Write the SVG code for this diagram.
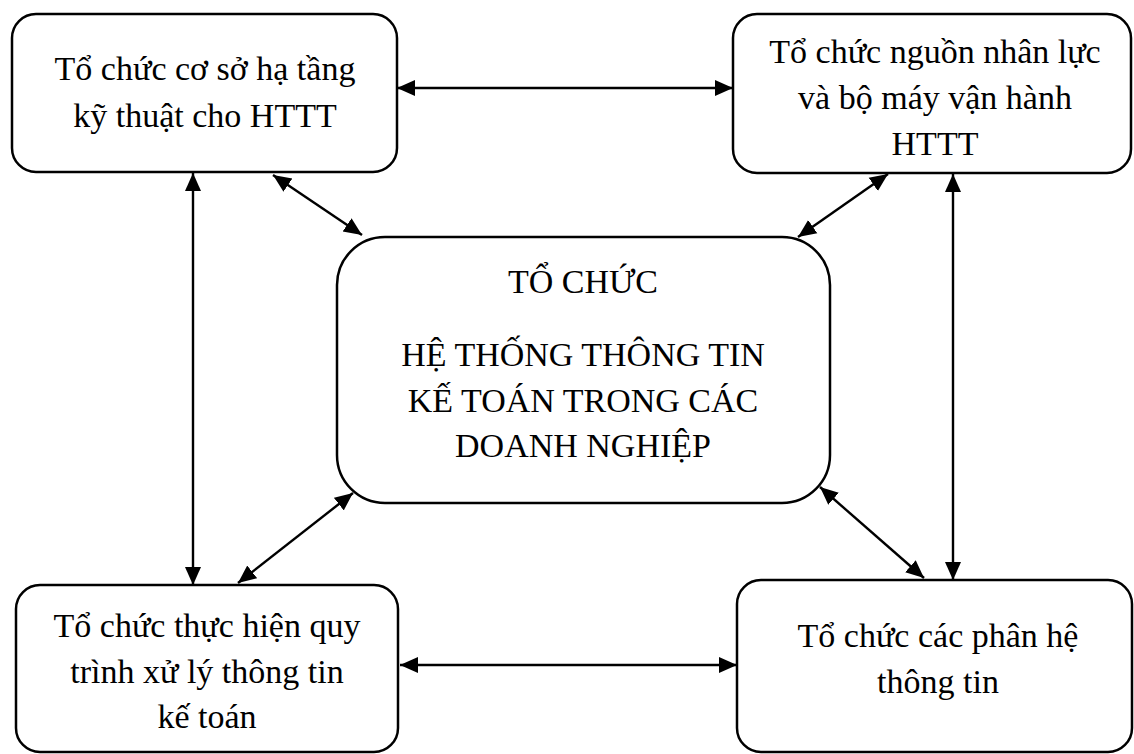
<svg xmlns="http://www.w3.org/2000/svg" width="1134" height="754" viewBox="0 0 1134 754">
  <style>
    .box { fill: #ffffff; stroke: #000000; stroke-width: 2.5; }
    .lbl { font-family: "Liberation Serif", "Times New Roman", serif; font-size: 34px; fill: #000000; text-anchor: middle; }
    .link { stroke: #000000; stroke-width: 2.4; fill: none; marker-start: url(#head); marker-end: url(#head); }
  </style>
  <defs>
    <!-- solid triangular arrowhead used at both ends of every link -->
    <marker id="head" viewBox="0 0 18 18" refX="18" refY="9" markerWidth="18" markerHeight="18" markerUnits="userSpaceOnUse" orient="auto-start-reverse">
      <path d="M0,1 L18,9 L0,17 Z" fill="#000000"/>
    </marker>
  </defs>

  <rect width="1134" height="754" fill="#ffffff"/>

  <!-- connectors -->
  <g id="connectors">
    <line class="link" x1="397" y1="88" x2="733" y2="88"/>
    <line class="link" x1="400" y1="665" x2="737" y2="665"/>
    <line class="link" x1="193" y1="173" x2="193" y2="585"/>
    <line class="link" x1="953" y1="174" x2="953" y2="580"/>
    <line class="link" x1="273" y1="175" x2="362" y2="235"/>
    <line class="link" x1="888" y1="174" x2="798" y2="237"/>
    <line class="link" x1="353" y1="493" x2="238" y2="583"/>
    <line class="link" x1="820" y1="487" x2="924" y2="578"/>
  </g>

  <!-- infrastructure node -->
  <g id="node-infrastructure">
    <rect class="box" x="12" y="14" width="385" height="158" rx="24"/>
    <text class="lbl" x="205" y="80">Tổ chức cơ sở hạ tầng</text>
    <text class="lbl" x="205" y="127">kỹ thuật cho HTTT</text>
  </g>

  <!-- human resources node -->
  <g id="node-personnel">
    <rect class="box" x="733" y="14" width="398" height="159" rx="24"/>
    <text class="lbl" x="935" y="63">Tổ chức nguồn nhân lực</text>
    <text class="lbl" x="935" y="109">và bộ máy vận hành</text>
    <text class="lbl" x="935" y="155">HTTT</text>
  </g>

  <!-- central node -->
  <g id="node-center">
    <rect class="box" x="337" y="237" width="493" height="266" rx="48"/>
    <text class="lbl" x="583" y="293">TỔ CHỨC</text>
    <text class="lbl" x="583" y="366">HỆ THỐNG THÔNG TIN</text>
    <text class="lbl" x="583" y="412">KẾ TOÁN TRONG CÁC</text>
    <text class="lbl" x="583" y="457">DOANH NGHIỆP</text>
  </g>

  <!-- processing workflow node -->
  <g id="node-workflow">
    <rect class="box" x="16" y="585" width="382" height="167" rx="24"/>
    <text class="lbl" x="207" y="637">Tổ chức thực hiện quy</text>
    <text class="lbl" x="207" y="683">trình xử lý thông tin</text>
    <text class="lbl" x="207" y="728">kế toán</text>
  </g>

  <!-- subsystems node -->
  <g id="node-subsystems">
    <rect class="box" x="737" y="580" width="395" height="172" rx="24"/>
    <text class="lbl" x="938" y="647">Tổ chức các phân hệ</text>
    <text class="lbl" x="938" y="693">thông tin</text>
  </g>
</svg>
